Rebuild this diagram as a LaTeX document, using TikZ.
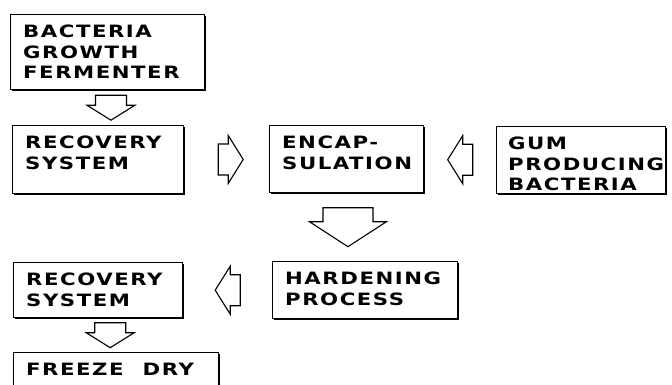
\documentclass[tikz,border=0pt]{standalone}
\usepackage{fontspec}
\newfontfamily\stagefont{DejaVu Sans Bold}[FakeStretch=1.25, LetterSpace=9]
\usetikzlibrary{calc,shadows}
\hyphenpenalty=10000
\exhyphenpenalty=10000

\tikzset{
  stage/.style={draw, line width=1.4pt, fill=white, anchor=north west,
    inner xsep=12.5pt, inner ysep=0pt, text height=23pt, align=left,
    font=\stagefont\fontsize{17pt}{20.5pt}\selectfont,
    drop shadow={shadow xshift=1.6pt, shadow yshift=-1.6pt, fill=black, opacity=1}},
  blockline/.style={draw, line width=1.1pt, fill=white},
  smallarrow/.pic={\path[blockline] (-12.5,-15.5) -- (-2.5,-15.5) -- (-2.5,-24) -- (12.5,0)
    -- (-2.5,24) -- (-2.5,15.5) -- (-12.5,15.5) -- cycle;},
  bigarrow/.pic={\path[blockline] (-19.5,-25) -- (-5.5,-25) -- (-5.5,-38.5) -- (19.5,0)
    -- (-5.5,38.5) -- (-5.5,25) -- (-19.5,25) -- cycle;}
}

\begin{document}
\begin{tikzpicture}[x=1pt, y=-1pt]

    % 0. page
    \fill[white] (0,0) rectangle (672,384);
    \useasboundingbox (0,0) rectangle (672,384);

    % 1. top row
    \node[stage, text width=169pt, text depth=52pt] (ferm) at (10,14) {BACTERIA\\GROWTH\\FERMENTER};
    \node[stage, text width=146pt, text depth=45pt] (rec) at (12,125) {RECOVERY\\SYSTEM};
    \node[stage, text width=129pt, text depth=44pt] (encap) at (269,125) {ENCAP-\\SULATION};
    \node[stage, text width=146pt, text depth=44pt, inner xsep=11.5pt] (gum) at (496,126) {GUM\\PRODUCING\\BACTERIA};

    % 2. bottom row
    \node[stage, text width=160pt, text depth=34pt] (hard) at (272,261) {HARDENING\\PROCESS};
    \node[stage, text width=144pt, text depth=32pt] (rec2) at (13,262) {RECOVERY\\SYSTEM};
    \node[stage, text width=180pt, text depth=30pt] (dry) at (13,352) {FREEZE\hspace{19pt}DRY};

    % 3. block arrows
    \pic[rotate=-90] at ($(ferm.south)!0.5!(rec.north)+(8,0)$) {smallarrow};
    \pic at ($(rec.east)!0.5!(encap.west)+(4,0)$) {smallarrow};
    \pic[rotate=180] at ($(gum.west)!0.5!(encap.east)$) {smallarrow};
    \pic[rotate=-90] at ($(encap.south)!0.5!(hard.north)+(-8,0)$) {bigarrow};
    \pic[rotate=180] at ($(hard.west)!0.5!(rec2.east)$) {smallarrow};
    \pic[rotate=-90] at ($(rec2.south)!0.5!(dry.north)+(3,0)$) {smallarrow};

\end{tikzpicture}
\end{document}
